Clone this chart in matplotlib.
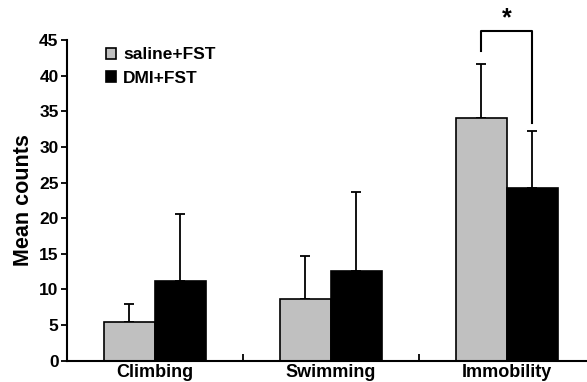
import matplotlib
matplotlib.use("Agg")
import matplotlib.pyplot as plt
import numpy as np

plt.rcParams['font.family'] = ['Liberation Sans', 'DejaVu Sans']
plt.rcParams['font.weight'] = 'bold'

categories = ["Climbing", "Swimming", "Immobility"]
series_names = ["saline+FST", "DMI+FST"]
saline_means = [5.5, 8.6, 34.1]
saline_err = [2.5, 6.1, 7.5]
dmi_means = [11.2, 12.6, 24.2]
dmi_err = [9.4, 11.1, 8.1]
yticks = [0, 5, 10, 15, 20, 25, 30, 35, 40, 45]

fig = plt.figure(figsize=(5.87, 3.82), dpi=100)
ax = fig.add_axes([0.114, 0.0557, 0.886, 0.8395])

x = np.arange(len(categories))
w = 0.29
colors = ["#c0c0c0", "#000000"]
for i, (m, e, name) in enumerate([(saline_means, saline_err, series_names[0]),
                                   (dmi_means, dmi_err, series_names[1])]):
    xs = x + (i - 0.5) * w
    ax.bar(xs, m, width=w, color=colors[i], edgecolor="black", linewidth=1.2,
           label=name, zorder=2)
    ax.errorbar(xs, m, yerr=[np.zeros(len(m)), e], fmt="none", ecolor="black",
                elinewidth=1.3, capsize=3.5, capthick=1.3, zorder=1)

ax.set_xlim(-0.5, 2.455)
ax.set_ylim(0, 45)
ax.set_yticks(yticks)
ax.set_xticks([0.5, 1.5])
ax.set_xticklabels([])
ax.tick_params(axis='x', direction='in', length=5, width=1.3)
ax.tick_params(axis='y', direction='out', length=4, width=1.3, labelsize=12.5, pad=2)
for c, lab in zip(x, categories):
    ax.text(c, -0.5, lab, ha='center', va='top', fontsize=13, fontweight='bold',
            transform=ax.transData, clip_on=False)
for s in ['top', 'right']:
    ax.spines[s].set_visible(False)
for s in ['left', 'bottom']:
    ax.spines[s].set_linewidth(1.5)

ax.set_ylabel("Mean counts", fontsize=15.5, fontweight='bold', labelpad=4)

# significance bracket
xl = x[2] - w / 2
xr = x[2] + w / 2
ax.plot([xl, xl, xr, xr], [43.5, 46.2, 46.2, 33.4], color='black', lw=1.5,
        clip_on=False)
ax.text(x[2], 46.4, "*", ha='center', va='bottom', fontsize=18, fontweight='bold',
        clip_on=False)

leg = ax.legend(loc='upper left', bbox_to_anchor=(0.055, 1.01), frameon=False,
                fontsize=12.5, handlelength=0.6, handleheight=0.6, handletextpad=0.4,
                labelspacing=0.5, borderaxespad=0.2)
for t in leg.get_texts():
    t.set_fontweight('bold')

fig.savefig("out.png", dpi=100)
